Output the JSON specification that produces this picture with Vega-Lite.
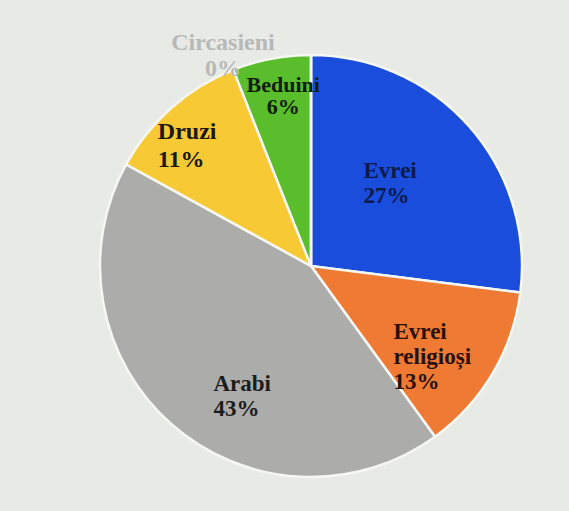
{
  "$schema": "https://vega.github.io/schema/vega-lite/v6.json",
  "autosize": "none",
  "width": 426,
  "height": 426,
  "padding": {"left": 98, "top": 53, "right": 45, "bottom": 32},
  "background": "#e8eae6",
  "view": {"stroke": null},
  "data": {
    "values": [
      {"group": "Evrei", "value": 27, "order": 1, "label": "Evrei\n27%"},
      {"group": "Evrei religioși", "value": 13, "order": 2, "label": "Evrei\nreligioși\n13%"},
      {"group": "Arabi", "value": 43, "order": 3, "label": "Arabi\n43%"},
      {"group": "Druzi", "value": 11, "order": 4, "label": "Druzi\n11%"},
      {"group": "Beduini", "value": 6, "order": 5, "label": "Beduini\n6%"},
      {"group": "Circasieni", "value": 0, "order": 6, "label": "Circasieni\n0%"}
    ]
  },
  "encoding": {
    "theta": {"field": "value", "type": "quantitative", "stack": true},
    "order": {"field": "order", "type": "quantitative"}
  },
  "layer": [
    {
      "mark": {"type": "arc", "outerRadius": 211, "stroke": "#f6f6f2", "strokeWidth": 2.5},
      "encoding": {
        "color": {
          "field": "group", "type": "nominal",
          "scale": {
            "domain": ["Evrei", "Evrei religioși", "Arabi", "Druzi", "Beduini", "Circasieni"],
            "range": ["#1a4ddb", "#ef7a33", "#acadab", "#f7ca35", "#5abd2b", "#d8d8d8"]
          },
          "legend": null
        }
      }
    },
    {
      "mark": {"type": "text", "radius": 110, "align": "left", "baseline": "middle", "dx": -30, "dy": -22, "font": "Liberation Serif", "fontWeight": "bold", "fontSize": 23, "lineHeight": 25, "lineBreak": "\n", "color": "#0c1a4c"},
      "encoding": {"text": {"condition": {"test": "datum.group === 'Evrei'", "field": "label"}, "value": ""}}
    },
    {
      "mark": {"type": "text", "radius": 140, "align": "left", "baseline": "middle", "dx": -38, "dy": -5, "font": "Liberation Serif", "fontWeight": "bold", "fontSize": 23, "lineHeight": 25, "lineBreak": "\n", "color": "#2a1208"},
      "encoding": {"text": {"condition": {"test": "datum.group === 'Evrei religioși'", "field": "label"}, "value": ""}}
    },
    {
      "mark": {"type": "text", "radius": 140, "align": "left", "baseline": "middle", "dx": -5, "dy": 13, "font": "Liberation Serif", "fontWeight": "bold", "fontSize": 23, "lineHeight": 25, "lineBreak": "\n", "color": "#1c1c1c"},
      "encoding": {"text": {"condition": {"test": "datum.group === 'Arabi'", "field": "label"}, "value": ""}}
    },
    {
      "mark": {"type": "text", "radius": 150, "align": "left", "baseline": "middle", "dx": -54, "dy": -21, "font": "Liberation Serif", "fontWeight": "bold", "fontSize": 24, "lineHeight": 28, "lineBreak": "\n", "color": "#1c1a10"},
      "encoding": {"text": {"condition": {"test": "datum.group === 'Druzi'", "field": "label"}, "value": ""}}
    },
    {
      "mark": {"type": "text", "radius": 175, "align": "center", "baseline": "middle", "dx": 5, "dy": -9, "font": "Liberation Serif", "fontWeight": "bold", "fontSize": 22, "lineHeight": 22, "lineBreak": "\n", "color": "#10200a"},
      "encoding": {"text": {"condition": {"test": "datum.group === 'Beduini'", "field": "label"}, "value": ""}}
    },
    {
      "mark": {"type": "text", "radius": 210, "align": "center", "baseline": "middle", "dx": -88, "dy": -13, "font": "Liberation Serif", "fontWeight": "bold", "fontSize": 24, "lineHeight": 26, "lineBreak": "\n", "color": "#b8b9b6"},
      "encoding": {"text": {"condition": {"test": "datum.group === 'Circasieni'", "field": "label"}, "value": ""}}
    }
  ]
}
